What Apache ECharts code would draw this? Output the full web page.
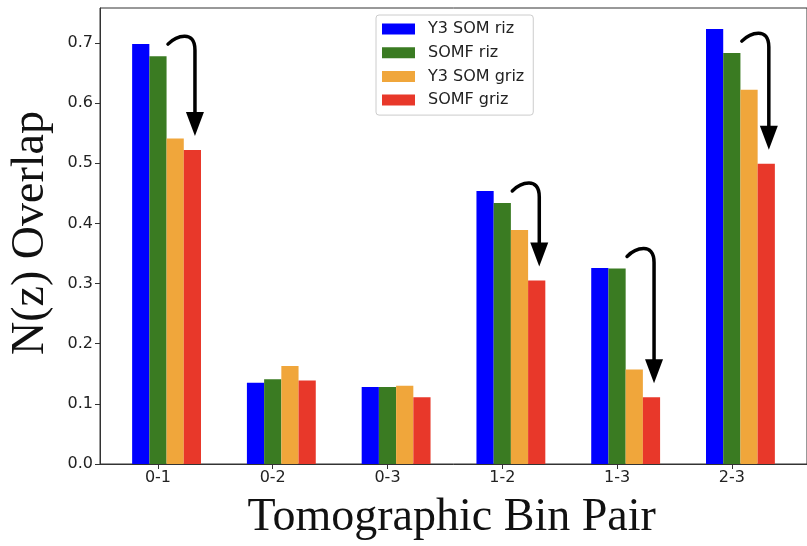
<!DOCTYPE html>
<html>
<head>
<meta charset="utf-8">
<script src="https://cdn.jsdelivr.net/npm/echarts@6/dist/echarts.min.js"></script>
<style>
html,body{margin:0;padding:0;background:#fff;}
#chart{width:807px;height:546px;}
</style>
</head>
<body>
<div id="chart"></div>
<script>
// ---- data ----
const categories = ['0-1', '0-2', '0-3', '1-2', '1-3', '2-3'];
const y3SomRiz   = [0.698, 0.135, 0.128, 0.454, 0.326, 0.723];
const somfRiz    = [0.678, 0.141, 0.128, 0.434, 0.325, 0.683];
const y3SomGriz  = [0.541, 0.163, 0.130, 0.389, 0.157, 0.622];
const somfGriz   = [0.522, 0.139, 0.111, 0.305, 0.111, 0.499];
const yTicks     = [0, 0.1, 0.2, 0.3, 0.4, 0.5, 0.6, 0.7];
const arrowCats  = ['0-1', '1-2', '1-3', '2-3'];

const seriesDefs = [
  { name: 'Y3 SOM riz',  data: y3SomRiz,  color: '#0000ff', offset: -0.15 },
  { name: 'SOMF riz',    data: somfRiz,   color: '#3a7b22', offset: 0 },
  { name: 'Y3 SOM griz', data: y3SomGriz, color: '#f0a63b', offset: 0.15 },
  { name: 'SOMF griz',   data: somfGriz,  color: '#e8382a', offset: 0.30 }
];
const BAR_W = 0.15;

const chart = echarts.init(document.getElementById('chart'), null, { renderer: 'canvas' });

function barSeries(def) {
  return {
    type: 'custom',
    name: def.name,
    itemStyle: { color: def.color },
    data: def.data.map((v, i) => [i, v]),
    renderItem: function (params, api) {
      const c = api.value(0) + def.offset;
      const p1 = api.coord([c - BAR_W / 2, api.value(1)]);
      const p2 = api.coord([c + BAR_W / 2, 0]);
      return {
        type: 'rect',
        shape: { x: p1[0], y: p1[1], width: p2[0] - p1[0], height: p2[1] - p1[1] },
        style: { fill: def.color }
      };
    },
    z: 2
  };
}

const arrowData = arrowCats.map(c => {
  const i = categories.indexOf(c);
  return [i, somfRiz[i], somfGriz[i]];
});

const arrowSeries = {
  type: 'custom',
  name: 'arrows',
  silent: true,
  data: arrowData,
  renderItem: function (params, api) {
    const i = api.value(0);
    const g = api.coord([i, api.value(1)]);
    const r = api.coord([i, api.value(2)]);
    const t = g[0];
    const gY = g[1];
    const tipY = r[1] - 14;
    const baseY = tipY - 24;
    const vx = t + 37;
    const x0 = t + 10, y0 = gY - 12;
    const d = 'M' + x0 + ' ' + y0 +
      ' C' + (t + 18) + ' ' + (gY - 20) + ' ' + vx + ' ' + (gY - 27) + ' ' + vx + ' ' + (gY - 6) +
      ' L' + vx + ' ' + (baseY + 2);
    return {
      type: 'group',
      children: [
        { type: 'path', shape: { pathData: d }, style: { fill: null, stroke: '#000', lineWidth: 3.5, lineCap: 'round', lineJoin: 'round' } },
        { type: 'polygon', shape: { points: [[vx - 9, baseY], [vx + 9, baseY], [vx, tipY]] }, style: { fill: '#000' } }
      ]
    };
  },
  z: 5
};

const option = {
  animation: false,
  backgroundColor: '#fff',
  grid: { left: 100, top: 8, width: 708.6, height: 456, show: true, borderColor: '#333', borderWidth: 1, backgroundColor: 'transparent' },
  legend: {
    orient: 'vertical',
    left: 376,
    top: 15,
    padding: [6, 9, 7, 6],
    itemWidth: 33,
    itemHeight: 11,
    itemGap: 7.7,
    icon: 'rect',
    borderColor: '#cccccc',
    borderWidth: 1,
    borderRadius: 3,
    backgroundColor: 'rgba(255,255,255,0.8)',
    textStyle: { fontFamily: 'DejaVu Sans', fontSize: 16, color: '#222', padding: [0, 0, 0, 8] },
    data: seriesDefs.map(d => ({ name: d.name, itemStyle: { color: d.color } }))
  },
  xAxis: {
    type: 'value',
    min: -0.505,
    max: 5.655,
    splitLine: { show: false },
    axisLine: { show: true, onZero: false, lineStyle: { color: '#333', width: 1 } },
    axisTick: { show: true, length: 5, customValues: categories.map((c, i) => i), lineStyle: { color: '#333' } },
    axisLabel: {
      customValues: categories.map((c, i) => i),
      formatter: v => categories[Math.round(v)],
      fontFamily: 'DejaVu Sans', fontSize: 16, color: '#222', margin: 6
    }
  },
  yAxis: {
    type: 'value',
    min: 0,
    max: 0.758,
    splitLine: { show: false },
    axisLine: { show: true, onZero: false, lineStyle: { color: '#333', width: 1 } },
    axisTick: { show: true, length: 5, customValues: yTicks, lineStyle: { color: '#333' } },
    axisLabel: {
      customValues: yTicks,
      formatter: v => v.toFixed(1),
      fontFamily: 'DejaVu Sans', fontSize: 16, color: '#222', margin: 7
    }
  },
  graphic: [
    {
      type: 'text', x: 451.7, y: 518, z: 10,
      style: { text: 'Tomographic Bin Pair', font: '46px "Liberation Serif"', fill: '#111', textAlign: 'center', textVerticalAlign: 'middle' }
    },
    {
      type: 'text', x: 31, y: 233, rotation: Math.PI / 2, z: 10,
      style: { text: 'N(z) Overlap', font: '46px "Liberation Serif"', fill: '#111', textAlign: 'center', textVerticalAlign: 'middle' }
    }
  ],
  series: seriesDefs.map(barSeries).concat([arrowSeries])
};

chart.setOption(option);
</script>
</body>
</html>
